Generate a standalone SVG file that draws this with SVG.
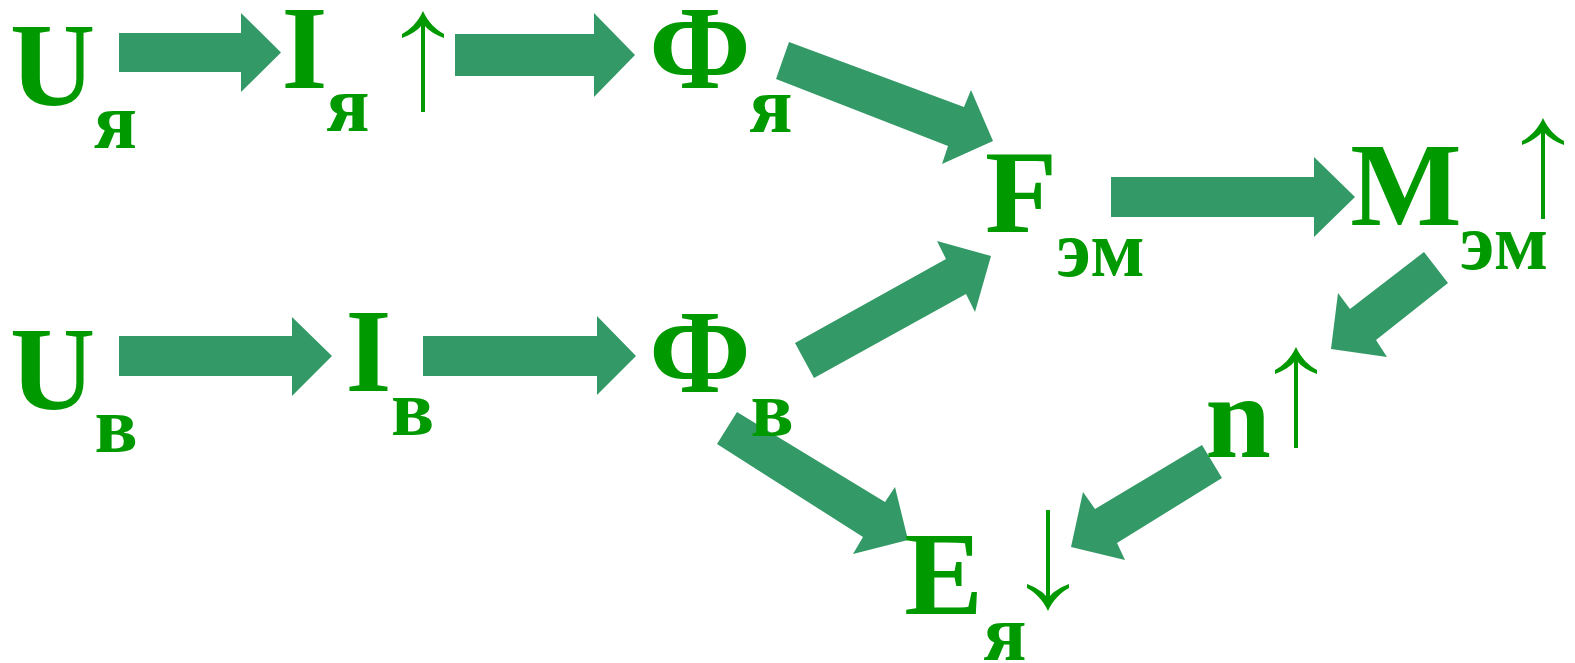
<svg xmlns="http://www.w3.org/2000/svg" xmlns:xlink="http://www.w3.org/1999/xlink" width="1575" height="663" viewBox="0 0 1575 663">
<style>
.big{font-family:"Liberation Serif","Times New Roman",serif;font-weight:bold;font-size:118px;fill:#009900;text-anchor:middle}
.sub{font-family:"Liberation Serif","Times New Roman",serif;font-weight:bold;font-size:80px;fill:#009900;text-anchor:middle}
.blk{fill:#339966}
.thin{fill:#009900}
</style>
<defs>
<path id="ua" d="M0,0 C5,11 13,19 21,23 L21,27 C13,24 5,19 2,15 L2,101 L-2,101 L-2,15 C-5,19 -13,24 -21,27 L-21,23 C-13,19 -5,11 0,0 Z"/>
</defs>
<rect width="1575" height="663" fill="#ffffff"/>
<g id="connectors">
<polygon class="blk" points="119,33 241,33 241,13 281,52.5 241,92 241,72 119,72"/>
<polygon class="blk" points="455,34 594,34 594,13 635,55 594,97 594,76 455,76"/>
<polygon class="blk" points="789,42 964,107 971,90 993,141 942,164 948,146 776,79"/>
<polygon class="blk" points="1111,177 1314,177 1314,157 1355,197 1314,237 1314,217 1111,217"/>
<polygon class="blk" points="119,336 292,336 292,317 332,356 292,396 292,376 119,376"/>
<polygon class="blk" points="423,336 597,336 597,316 636,356 597,395 597,376 423,376"/>
<polygon class="blk" points="795,343 946,259 937,241 991,256 975,312 966,294 814,378"/>
<polygon class="blk" points="737,412 885,502 895,487 908,540 853,554 863,537 717,444"/>
<polygon class="blk" points="1424,252 1350,309 1338,293 1331,349 1387,357 1376,340 1448,283"/>
<polygon class="blk" points="1202,445 1095,509 1083,492 1071,547 1125,560 1117,543 1222,478"/>
</g>
<g id="U_ya"><text class="big" x="52.5" y="105">U</text><text class="sub" x="115.5" y="148">я</text></g>
<g id="I_ya"><text class="big" x="304.5" y="88">I</text><text class="sub" x="348" y="131">я</text><use xlink:href="#ua" class="thin" x="423" y="11"/></g>
<g id="Phi_ya"><text class="big" x="700" y="88">Ф</text><text class="sub" x="771" y="132">я</text></g>
<g id="F_em"><text class="big" x="1021" y="232">F</text><text class="sub" x="1100.5" y="276">эм</text></g>
<g id="M_em"><text class="big" x="1406" y="225">M</text><text class="sub" x="1504" y="269">эм</text><use xlink:href="#ua" class="thin" x="1543" y="118"/></g>
<g id="U_v"><text class="big" x="52.5" y="409">U</text><text class="sub" x="116" y="452">в</text></g>
<g id="I_v"><text class="big" x="368.5" y="391">I</text><text class="sub" x="412.5" y="435">в</text></g>
<g id="Phi_v"><text class="big" x="700" y="392">Ф</text><text class="sub" x="772" y="436">в</text></g>
<g id="n"><text class="big" x="1238" y="457">n</text><use xlink:href="#ua" class="thin" x="1296" y="347"/></g>
<g id="E_ya"><text class="big" x="943.5" y="614">E</text><text class="sub" x="1005" y="660">я</text><use xlink:href="#ua" class="thin" transform="translate(1048,611) scale(1,-1)"/></g>
</svg>
